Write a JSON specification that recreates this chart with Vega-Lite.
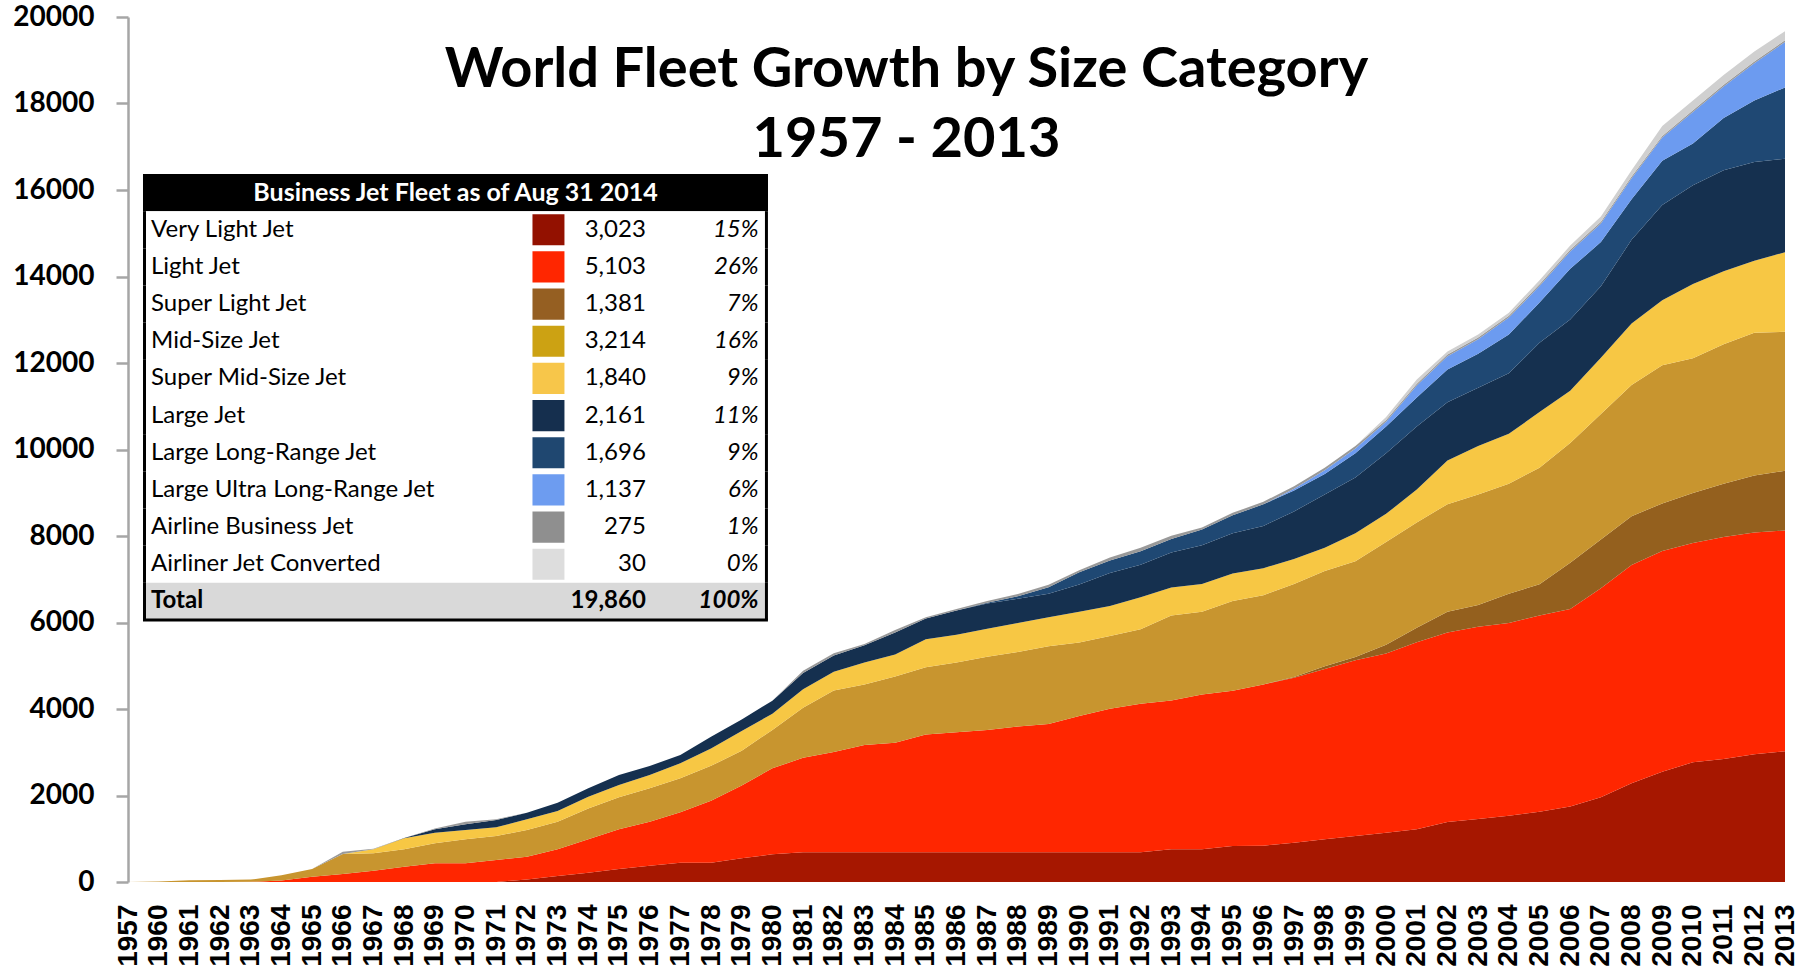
{
  "$schema": "https://vega.github.io/schema/vega-lite/v6.json",
  "width": 1657,
  "height": 865,
  "autosize": "none",
  "padding": {"left": 128, "top": 17, "right": 30, "bottom": 89},
  "background": "#FFFFFF",
  "config": {"view": {"stroke": null}},
  "title": {
    "text": ["World Fleet Growth by Size Category", "1957 - 2013"],
    "font": "Lato",
    "fontSize": 56,
    "fontWeight": "bold",
    "color": "#000000",
    "lineHeight": 70,
    "anchor": "middle",
    "frame": "group",
    "dx": -50,
    "offset": -166,
    "baseline": "top"
  },
  "datasets": {
    "fleet": [
      {"year": 1957, "vlj": 0, "lj": 0, "slj": 0, "msj": 0, "smsj": 0, "lgj": 0, "llr": 0, "lulr": 0, "abj": 0, "ajc": 0},
      {"year": 1960, "vlj": 0, "lj": 0, "slj": 0, "msj": 10, "smsj": 0, "lgj": 0, "llr": 0, "lulr": 0, "abj": 0, "ajc": 0},
      {"year": 1961, "vlj": 0, "lj": 0, "slj": 0, "msj": 40, "smsj": 0, "lgj": 0, "llr": 0, "lulr": 0, "abj": 0, "ajc": 0},
      {"year": 1962, "vlj": 0, "lj": 0, "slj": 0, "msj": 45, "smsj": 0, "lgj": 0, "llr": 0, "lulr": 0, "abj": 0, "ajc": 0},
      {"year": 1963, "vlj": 0, "lj": 5, "slj": 0, "msj": 50, "smsj": 0, "lgj": 0, "llr": 0, "lulr": 0, "abj": 0, "ajc": 0},
      {"year": 1964, "vlj": 0, "lj": 35, "slj": 0, "msj": 119, "smsj": 0, "lgj": 0, "llr": 0, "lulr": 0, "abj": 0, "ajc": 0},
      {"year": 1965, "vlj": 0, "lj": 123, "slj": 0, "msj": 177, "smsj": 0, "lgj": 0, "llr": 0, "lulr": 0, "abj": 0, "ajc": 0},
      {"year": 1966, "vlj": 0, "lj": 185, "slj": 0, "msj": 462, "smsj": 0, "lgj": 0, "llr": 0, "lulr": 0, "abj": 54, "ajc": 0},
      {"year": 1967, "vlj": 0, "lj": 262, "slj": 0, "msj": 401, "smsj": 92, "lgj": 0, "llr": 0, "lulr": 0, "abj": 15, "ajc": 0},
      {"year": 1968, "vlj": 0, "lj": 354, "slj": 0, "msj": 401, "smsj": 255, "lgj": 10, "llr": 0, "lulr": 0, "abj": 0, "ajc": 0},
      {"year": 1969, "vlj": 0, "lj": 432, "slj": 0, "msj": 462, "smsj": 247, "lgj": 77, "llr": 0, "lulr": 0, "abj": 20, "ajc": 0},
      {"year": 1970, "vlj": 0, "lj": 432, "slj": 0, "msj": 555, "smsj": 215, "lgj": 131, "llr": 0, "lulr": 0, "abj": 62, "ajc": 0},
      {"year": 1971, "vlj": 0, "lj": 509, "slj": 0, "msj": 554, "smsj": 201, "lgj": 169, "llr": 0, "lulr": 0, "abj": 16, "ajc": 0},
      {"year": 1972, "vlj": 60, "lj": 526, "slj": 0, "msj": 616, "smsj": 247, "lgj": 154, "llr": 0, "lulr": 0, "abj": 0, "ajc": 0},
      {"year": 1973, "vlj": 139, "lj": 616, "slj": 0, "msj": 640, "smsj": 246, "lgj": 193, "llr": 0, "lulr": 0, "abj": 0, "ajc": 0},
      {"year": 1974, "vlj": 216, "lj": 771, "slj": 0, "msj": 713, "smsj": 273, "lgj": 193, "llr": 0, "lulr": 0, "abj": 0, "ajc": 0},
      {"year": 1975, "vlj": 300, "lj": 917, "slj": 0, "msj": 741, "smsj": 285, "lgj": 231, "llr": 0, "lulr": 0, "abj": 0, "ajc": 0},
      {"year": 1976, "vlj": 378, "lj": 1017, "slj": 0, "msj": 771, "smsj": 308, "lgj": 208, "llr": 0, "lulr": 0, "abj": 0, "ajc": 0},
      {"year": 1977, "vlj": 447, "lj": 1164, "slj": 0, "msj": 786, "smsj": 347, "lgj": 192, "llr": 0, "lulr": 0, "abj": 0, "ajc": 0},
      {"year": 1978, "vlj": 447, "lj": 1433, "slj": 0, "msj": 805, "smsj": 403, "lgj": 268, "llr": 0, "lulr": 0, "abj": 0, "ajc": 0},
      {"year": 1979, "vlj": 547, "lj": 1683, "slj": 0, "msj": 804, "smsj": 456, "lgj": 270, "llr": 0, "lulr": 0, "abj": 0, "ajc": 0},
      {"year": 1980, "vlj": 640, "lj": 1990, "slj": 0, "msj": 887, "smsj": 376, "lgj": 297, "llr": 0, "lulr": 0, "abj": 0, "ajc": 0},
      {"year": 1981, "vlj": 690, "lj": 2180, "slj": 0, "msj": 1160, "smsj": 427, "lgj": 373, "llr": 0, "lulr": 0, "abj": 57, "ajc": 0},
      {"year": 1982, "vlj": 690, "lj": 2317, "slj": 0, "msj": 1423, "smsj": 430, "lgj": 376, "llr": 0, "lulr": 0, "abj": 54, "ajc": 0},
      {"year": 1983, "vlj": 690, "lj": 2480, "slj": 0, "msj": 1395, "smsj": 510, "lgj": 399, "llr": 0, "lulr": 0, "abj": 30, "ajc": 0},
      {"year": 1984, "vlj": 690, "lj": 2532, "slj": 0, "msj": 1530, "smsj": 511, "lgj": 503, "llr": 0, "lulr": 0, "abj": 60, "ajc": 0},
      {"year": 1985, "vlj": 690, "lj": 2720, "slj": 0, "msj": 1557, "smsj": 645, "lgj": 480, "llr": 0, "lulr": 0, "abj": 30, "ajc": 0},
      {"year": 1986, "vlj": 690, "lj": 2774, "slj": 0, "msj": 1611, "smsj": 644, "lgj": 561, "llr": 0, "lulr": 0, "abj": 30, "ajc": 0},
      {"year": 1987, "vlj": 690, "lj": 2827, "slj": 0, "msj": 1692, "smsj": 644, "lgj": 585, "llr": 20, "lulr": 0, "abj": 40, "ajc": 0},
      {"year": 1988, "vlj": 690, "lj": 2908, "slj": 0, "msj": 1718, "smsj": 671, "lgj": 562, "llr": 60, "lulr": 0, "abj": 50, "ajc": 0},
      {"year": 1989, "vlj": 690, "lj": 2962, "slj": 0, "msj": 1798, "smsj": 672, "lgj": 542, "llr": 150, "lulr": 0, "abj": 60, "ajc": 0},
      {"year": 1990, "vlj": 688, "lj": 3152, "slj": 0, "msj": 1697, "smsj": 713, "lgj": 630, "llr": 280, "lulr": 0, "abj": 50, "ajc": 0},
      {"year": 1991, "vlj": 686, "lj": 3321, "slj": 0, "msj": 1682, "smsj": 694, "lgj": 762, "llr": 288, "lulr": 0, "abj": 70, "ajc": 0},
      {"year": 1992, "vlj": 686, "lj": 3433, "slj": 0, "msj": 1726, "smsj": 740, "lgj": 751, "llr": 312, "lulr": 0, "abj": 80, "ajc": 0},
      {"year": 1993, "vlj": 755, "lj": 3443, "slj": 0, "msj": 1961, "smsj": 650, "lgj": 807, "llr": 314, "lulr": 0, "abj": 78, "ajc": 0},
      {"year": 1994, "vlj": 760, "lj": 3573, "slj": 0, "msj": 1916, "smsj": 639, "lgj": 896, "llr": 365, "lulr": 0, "abj": 50, "ajc": 0},
      {"year": 1995, "vlj": 832, "lj": 3590, "slj": 0, "msj": 2073, "smsj": 639, "lgj": 930, "llr": 416, "lulr": 0, "abj": 55, "ajc": 0},
      {"year": 1996, "vlj": 840, "lj": 3728, "slj": 0, "msj": 2062, "smsj": 627, "lgj": 975, "llr": 500, "lulr": 0, "abj": 60, "ajc": 0},
      {"year": 1997, "vlj": 909, "lj": 3816, "slj": 15, "msj": 2148, "smsj": 580, "lgj": 1100, "llr": 483, "lulr": 40, "abj": 60, "ajc": 0},
      {"year": 1998, "vlj": 987, "lj": 3939, "slj": 64, "msj": 2200, "smsj": 538, "lgj": 1233, "llr": 470, "lulr": 90, "abj": 56, "ajc": 0},
      {"year": 1999, "vlj": 1063, "lj": 4065, "slj": 72, "msj": 2214, "smsj": 650, "lgj": 1289, "llr": 561, "lulr": 112, "abj": 56, "ajc": 0},
      {"year": 2000, "vlj": 1140, "lj": 4145, "slj": 200, "msj": 2377, "smsj": 650, "lgj": 1402, "llr": 616, "lulr": 112, "abj": 40, "ajc": 72},
      {"year": 2001, "vlj": 1217, "lj": 4325, "slj": 336, "msj": 2433, "smsj": 762, "lgj": 1457, "llr": 672, "lulr": 280, "abj": 40, "ajc": 95},
      {"year": 2002, "vlj": 1387, "lj": 4380, "slj": 482, "msj": 2488, "smsj": 1008, "lgj": 1345, "llr": 762, "lulr": 303, "abj": 40, "ajc": 72},
      {"year": 2003, "vlj": 1457, "lj": 4444, "slj": 504, "msj": 2556, "smsj": 1121, "lgj": 1344, "llr": 785, "lulr": 336, "abj": 40, "ajc": 72},
      {"year": 2004, "vlj": 1534, "lj": 4457, "slj": 672, "msj": 2545, "smsj": 1154, "lgj": 1401, "llr": 896, "lulr": 392, "abj": 40, "ajc": 72},
      {"year": 2005, "vlj": 1626, "lj": 4533, "slj": 728, "msj": 2690, "smsj": 1289, "lgj": 1600, "llr": 934, "lulr": 380, "abj": 40, "ajc": 94},
      {"year": 2006, "vlj": 1745, "lj": 4565, "slj": 1074, "msj": 2765, "smsj": 1209, "lgj": 1650, "llr": 1169, "lulr": 403, "abj": 40, "ajc": 94},
      {"year": 2007, "vlj": 1960, "lj": 4833, "slj": 1128, "msj": 2900, "smsj": 1300, "lgj": 1653, "llr": 1021, "lulr": 429, "abj": 40, "ajc": 121},
      {"year": 2008, "vlj": 2282, "lj": 5048, "slj": 1128, "msj": 3034, "smsj": 1423, "lgj": 1933, "llr": 940, "lulr": 483, "abj": 40, "ajc": 148},
      {"year": 2009, "vlj": 2551, "lj": 5101, "slj": 1101, "msj": 3195, "smsj": 1504, "lgj": 2202, "llr": 1020, "lulr": 537, "abj": 40, "ajc": 229},
      {"year": 2010, "vlj": 2766, "lj": 5074, "slj": 1155, "msj": 3115, "smsj": 1718, "lgj": 2282, "llr": 967, "lulr": 725, "abj": 40, "ajc": 228},
      {"year": 2011, "vlj": 2846, "lj": 5129, "slj": 1235, "msj": 3222, "smsj": 1691, "lgj": 2336, "llr": 1208, "lulr": 725, "abj": 40, "ajc": 228},
      {"year": 2012, "vlj": 2953, "lj": 5129, "slj": 1316, "msj": 3302, "smsj": 1665, "lgj": 2282, "llr": 1423, "lulr": 860, "abj": 40, "ajc": 230},
      {"year": 2013, "vlj": 3023, "lj": 5103, "slj": 1381, "msj": 3214, "smsj": 1840, "lgj": 2161, "llr": 1650, "lulr": 1050, "abj": 40, "ajc": 210}
    ],
    "table": [
      {"row": "Business Jet Fleet as of Aug 31 2014", "kind": "header"},
      {"row": "Very Light Jet", "kind": "item", "cat": "vlj", "count": 3023, "pct": 0.15},
      {"row": "Light Jet", "kind": "item", "cat": "lj", "count": 5103, "pct": 0.26},
      {"row": "Super Light Jet", "kind": "item", "cat": "slj", "count": 1381, "pct": 0.07},
      {"row": "Mid-Size Jet", "kind": "item", "cat": "msj", "count": 3214, "pct": 0.16},
      {"row": "Super Mid-Size Jet", "kind": "item", "cat": "smsj", "count": 1840, "pct": 0.09},
      {"row": "Large Jet", "kind": "item", "cat": "lgj", "count": 2161, "pct": 0.11},
      {"row": "Large Long-Range Jet", "kind": "item", "cat": "llr", "count": 1696, "pct": 0.09},
      {"row": "Large Ultra Long-Range Jet", "kind": "item", "cat": "lulr", "count": 1137, "pct": 0.06},
      {"row": "Airline Business Jet", "kind": "item", "cat": "abj", "count": 275, "pct": 0.01},
      {"row": "Airliner Jet Converted", "kind": "item", "cat": "ajc", "count": 30, "pct": 0.0},
      {"row": "Total", "kind": "total", "count": 19860, "pct": 1.0}
    ]
  },
  "layer": [
    {
      "data": {"name": "fleet"},
      "transform": [
        {"fold": ["vlj", "lj", "slj", "msj", "smsj", "lgj", "llr", "lulr", "abj", "ajc"], "as": ["cat", "n"]},
        {"window": [{"op": "row_number", "as": "stack_rank"}], "groupby": ["year"]}
      ],
      "mark": {"type": "area", "interpolate": "linear"},
      "encoding": {
        "x": {
          "field": "year",
          "type": "ordinal",
          "scale": {"type": "point", "padding": 0},
          "axis": {
            "title": null,
            "labelAngle": 270,
            "labelAlign": "right",
            "labelBaseline": "middle",
            "labelFont": "Liberation Sans",
            "labelFontWeight": "bold",
            "labelFontSize": 28,
            "labelColor": "#000000",
            "labelPadding": 22,
            "labelOverlap": false,
            "ticks": false,
            "domain": false,
            "grid": false
          }
        },
        "y": {
          "field": "n",
          "type": "quantitative",
          "stack": "zero",
          "scale": {"domain": [0, 20000], "nice": false},
          "axis": {
            "title": null,
            "values": [0, 2000, 4000, 6000, 8000, 10000, 12000, 14000, 16000, 18000, 20000],
            "format": "d",
            "labelFont": "Lato",
            "labelFontWeight": "bold",
            "labelFontSize": 28,
            "labelColor": "#000000",
            "labelPadding": 22,
            "tickSize": 12,
            "tickWidth": 2.5,
            "tickColor": "#A6A6A6",
            "domainColor": "#A6A6A6",
            "domainWidth": 2.5,
            "grid": false
          }
        },
        "color": {
          "field": "cat",
          "type": "nominal",
          "scale": {
            "domain": ["vlj", "lj", "slj", "msj", "smsj", "lgj", "llr", "lulr", "abj", "ajc"],
            "range": ["#A61700", "#FF2600", "#94601E", "#C8952F", "#F7C744", "#15304F", "#1F4873", "#6C9BF0", "#999999", "#D0D0D0"]
          },
          "legend": null
        },
        "order": {"field": "stack_rank", "sort": "ascending"}
      }
    },
    {
      "data": {"name": "table"},
      "encoding": {
        "y": {
          "field": "row",
          "type": "nominal",
          "sort": null,
          "scale": {
            "type": "band",
            "domain": ["Business Jet Fleet as of Aug 31 2014", "Very Light Jet", "Light Jet", "Super Light Jet", "Mid-Size Jet", "Super Mid-Size Jet", "Large Jet", "Large Long-Range Jet", "Large Ultra Long-Range Jet", "Airline Business Jet", "Airliner Jet Converted", "Total"],
            "range": [157, 603],
            "paddingInner": 0,
            "paddingOuter": 0
          },
          "axis": null
        }
      },
      "layer": [
        {
          "mark": {"type": "rect"},
          "encoding": {
            "x": {"datum": 0.905, "type": "quantitative", "scale": {"domain": [0, 100], "nice": false, "zero": false}, "axis": null},
            "x2": {"datum": 38.62},
            "fill": {
              "field": "kind",
              "type": "nominal",
              "scale": {"domain": ["header", "item", "total"], "range": ["#000000", "#FFFFFF", "#D9D9D9"]},
              "legend": null
            }
          }
        },
        {
          "mark": {"type": "rect", "color": "#000000"},
          "encoding": {
            "x": {"datum": 0.905, "type": "quantitative"},
            "x2": {"datum": 1.086}
          }
        },
        {
          "mark": {"type": "rect", "color": "#000000"},
          "encoding": {
            "x": {"datum": 38.44, "type": "quantitative"},
            "x2": {"datum": 38.62}
          }
        },
        {
          "transform": [{"filter": "datum.kind === 'total'"}],
          "mark": {"type": "rule", "color": "#000000", "strokeWidth": 3},
          "encoding": {
            "x": {"datum": 0.905, "type": "quantitative"},
            "x2": {"datum": 38.62},
            "y": {"field": "row", "type": "nominal", "bandPosition": 1}
          }
        },
        {
          "transform": [{"filter": "datum.kind === 'header'"}],
          "mark": {"type": "text", "font": "Lato", "fontSize": 25, "fontWeight": "bold", "color": "#FFFFFF", "align": "center", "baseline": "middle"},
          "encoding": {
            "x": {"datum": 19.77, "type": "quantitative"},
            "text": {"field": "row"}
          }
        },
        {
          "transform": [{"filter": "datum.kind === 'item'"}],
          "mark": {"type": "text", "font": "Lato", "fontSize": 24, "color": "#000000", "align": "left", "baseline": "middle"},
          "encoding": {
            "x": {"datum": 1.39, "type": "quantitative"},
            "text": {"field": "row"}
          }
        },
        {
          "transform": [{"filter": "datum.kind === 'total'"}],
          "mark": {"type": "text", "font": "Lato", "fontSize": 24, "fontWeight": "bold", "color": "#000000", "align": "left", "baseline": "middle"},
          "encoding": {
            "x": {"datum": 1.39, "type": "quantitative"},
            "text": {"field": "row"}
          }
        },
        {
          "transform": [{"filter": "datum.kind === 'item'"}],
          "mark": {"type": "rect", "height": {"band": 0.84}},
          "encoding": {
            "x": {"datum": 24.41, "type": "quantitative"},
            "x2": {"datum": 26.34},
            "color": {
              "field": "cat",
              "type": "nominal",
              "scale": {
                "domain": ["vlj", "lj", "slj", "msj", "smsj", "lgj", "llr", "lulr", "abj", "ajc"],
                "range": ["#931100", "#FF2600", "#955F22", "#CCA213", "#F7C64A", "#152F4E", "#1F4770", "#6D9CF0", "#8F8F8F", "#DDDDDD"]
              },
              "legend": null
            }
          }
        },
        {
          "transform": [{"filter": "datum.kind === 'item'"}],
          "mark": {"type": "text", "font": "Lato", "fontSize": 24, "color": "#000000", "align": "right", "baseline": "middle"},
          "encoding": {
            "x": {"datum": 31.25, "type": "quantitative"},
            "text": {"field": "count", "format": ","}
          }
        },
        {
          "transform": [{"filter": "datum.kind === 'total'"}],
          "mark": {"type": "text", "font": "Lato", "fontSize": 24, "fontWeight": "bold", "color": "#000000", "align": "right", "baseline": "middle"},
          "encoding": {
            "x": {"datum": 31.25, "type": "quantitative"},
            "text": {"field": "count", "format": ","}
          }
        },
        {
          "transform": [{"filter": "datum.kind === 'item'"}],
          "mark": {"type": "text", "font": "Lato", "fontSize": 24, "fontStyle": "italic", "color": "#000000", "align": "right", "baseline": "middle"},
          "encoding": {
            "x": {"datum": 38.06, "type": "quantitative"},
            "text": {"field": "pct", "format": ".0%"}
          }
        },
        {
          "transform": [{"filter": "datum.kind === 'total'"}],
          "mark": {"type": "text", "font": "Lato", "fontSize": 24, "fontWeight": "bold", "fontStyle": "italic", "color": "#000000", "align": "right", "baseline": "middle"},
          "encoding": {
            "x": {"datum": 38.06, "type": "quantitative"},
            "text": {"field": "pct", "format": ".0%"}
          }
        }
      ]
    }
  ],
  "resolve": {"scale": {"x": "independent", "y": "independent", "color": "independent"}}
}
